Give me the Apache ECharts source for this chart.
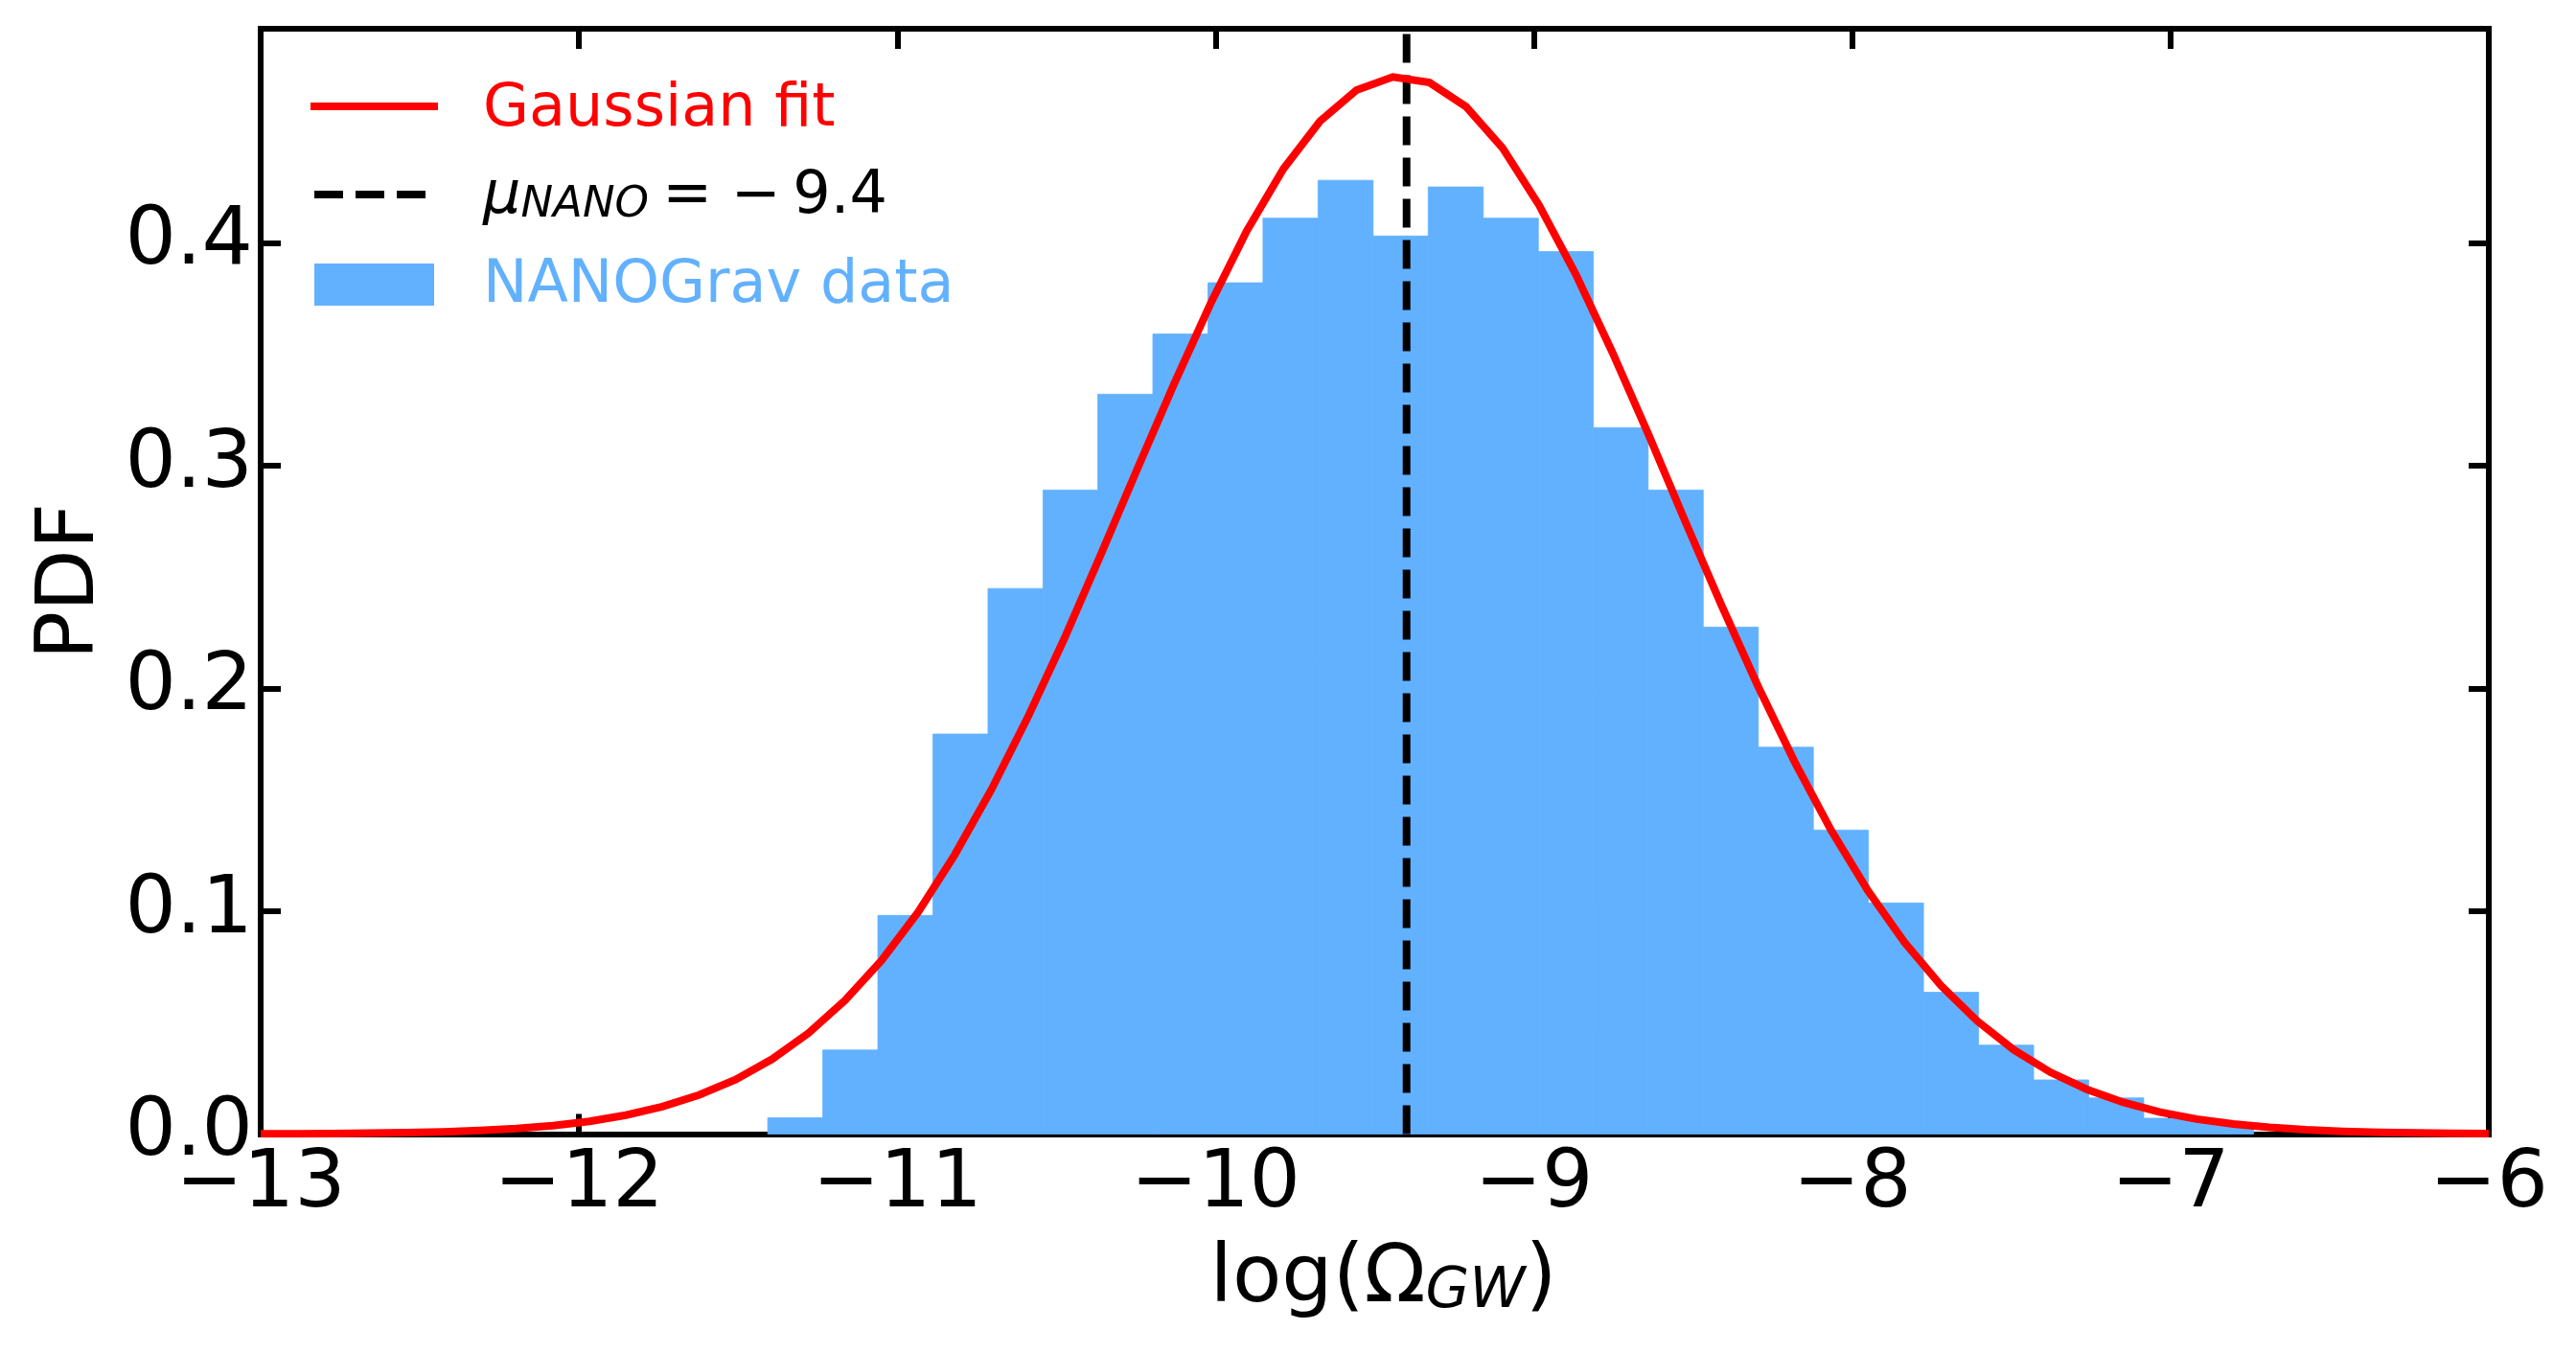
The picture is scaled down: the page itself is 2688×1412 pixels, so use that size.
<!DOCTYPE html>
<html>
<head>
<meta charset="utf-8">
<script src="https://cdn.jsdelivr.net/npm/echarts@6/dist/echarts.min.js"></script>
<style>
html, body { margin: 0; padding: 0; background: #ffffff; }
#chart { width: 2688px; height: 1412px; }
</style>
</head>
<body>
<div id="chart"></div>
<script>
// ---------- data ----------
// histogram bin edges (log Omega_GW)
const binEdges = [
  -11.407, -11.234, -11.061, -10.888, -10.715, -10.542, -10.370, -10.197,
  -10.024, -9.851, -9.678, -9.505, -9.332, -9.159, -8.986, -8.813,
  -8.641, -8.468, -8.295, -8.122, -7.949, -7.776, -7.603, -7.430,
  -7.257, -7.084, -6.911, -6.739
];
// histogram density per bin
const binDensity = [
  0.0073, 0.0377, 0.0981, 0.1795, 0.2448, 0.2890, 0.3320, 0.3590,
  0.3820, 0.4110, 0.4280, 0.4030, 0.4250, 0.4110, 0.3960, 0.3170,
  0.2890, 0.2275, 0.1736, 0.1364, 0.1037, 0.0636, 0.0399, 0.0243,
  0.0162, 0.0071, 0.0050
];
// Gaussian fit curve samples
const fitX = [
  -13.000, -12.885, -12.770, -12.656, -12.541, -12.426, -12.311, -12.197,
  -12.082, -11.967, -11.852, -11.738, -11.623, -11.508, -11.393, -11.279,
  -11.164, -11.049, -10.934, -10.820, -10.705, -10.590, -10.475, -10.361,
  -10.246, -10.131, -10.016, -9.902, -9.787, -9.672, -9.557, -9.443,
  -9.328, -9.213, -9.098, -8.984, -8.869, -8.754, -8.639, -8.525,
  -8.410, -8.295, -8.180, -8.066, -7.951, -7.836, -7.721, -7.607,
  -7.492, -7.377, -7.262, -7.148, -7.033, -6.918, -6.803, -6.689,
  -6.574, -6.459, -6.344, -6.230, -6.115, -6.000
];
const fitPDF = [
  0.0001, 0.0001, 0.0002, 0.0004, 0.0006, 0.0010, 0.0016, 0.0025,
  0.0038, 0.0057, 0.0085, 0.0123, 0.0175, 0.0244, 0.0336, 0.0453,
  0.0600, 0.0780, 0.0997, 0.1252, 0.1544, 0.1870, 0.2224, 0.2599,
  0.2984, 0.3364, 0.3726, 0.4053, 0.4331, 0.4545, 0.4685, 0.4744,
  0.4719, 0.4610, 0.4424, 0.4169, 0.3860, 0.3510, 0.3136, 0.2751,
  0.2371, 0.2007, 0.1668, 0.1363, 0.1093, 0.0861, 0.0666, 0.0507,
  0.0378, 0.0277, 0.0200, 0.0142, 0.0098, 0.0067, 0.0045, 0.0030,
  0.0019, 0.0012, 0.0008, 0.0005, 0.0003, 0.0002
];
const muNano = -9.4;
const xRange = [-13, -6];
const yRange = [0, 0.496];
const xTicks = [-13, -12, -11, -10, -9, -8, -7, -6];
const yTicks = [0, 0.1, 0.2, 0.3, 0.4];
const legendNames = ['Gaussian fit', 'mu', 'NANOGrav data'];

// ---------- styling ----------
const FONT = 'DejaVu Sans';
const BAR = '#62B1FF';
const RED = '#ff0000';

const histData = binDensity.map((h, i) => [binEdges[i], binEdges[i + 1], h]);
const fitData = fitX.map((x, i) => [x, fitPDF[i]]);
const muData = [[muNano, yRange[0]], [muNano, yRange[1]]];

const fmtX = v => (v < 0 ? '\u2212' : '') + Math.abs(v);

function frameAxis(extra) {
  return Object.assign({
    type: 'value',
    axisLine: { show: true, onZero: false, lineStyle: { color: '#000', width: 6, cap: 'square' } },
    axisTick: { show: true, inside: true, length: 21, lineStyle: { color: '#000', width: 6 } },
    splitLine: { show: false },
    axisLabel: { show: false }
  }, extra);
}

const chart = echarts.init(document.getElementById('chart'), null, { renderer: 'canvas' });

const option = {
  backgroundColor: '#ffffff',
  animation: false,
  grid: { left: 272, right: 91, top: 30, bottom: 228.5, containLabel: false },
  xAxis: [
    frameAxis({
      position: 'bottom', min: xRange[0], max: xRange[1], interval: 1,
      axisLabel: {
        show: true, color: '#000', fontFamily: FONT, fontSize: 84, lineHeight: 84,
        margin: 12, formatter: fmtX
      },
      name: '{n|log(\u03A9}{s|GW}{n|)}',
      nameLocation: 'middle', nameGap: 111,
      nameTextStyle: {
        padding: [0, 0, 0, 18],
        rich: {
          n: { fontFamily: FONT, fontSize: 84, lineHeight: 84, color: '#000' },
          s: { fontFamily: FONT, fontSize: 59, lineHeight: 42, fontStyle: 'italic', color: '#000', verticalAlign: 'bottom' }
        }
      }
    }),
    frameAxis({ position: 'top', min: xRange[0], max: xRange[1], interval: 1 })
  ],
  yAxis: [
    frameAxis({
      position: 'left', min: yRange[0], max: yRange[1],
      axisTick: { show: true, inside: true, length: 21, customValues: yTicks, lineStyle: { color: '#000', width: 6 } },
      axisLabel: {
        show: true, customValues: yTicks, color: '#000', fontFamily: FONT, fontSize: 84, lineHeight: 84,
        margin: 8, formatter: v => v.toFixed(1)
      },
      name: 'PDF', nameLocation: 'middle', nameGap: 155,
      nameTextStyle: { fontFamily: FONT, fontSize: 84, lineHeight: 84, color: '#000' }
    }),
    frameAxis({
      position: 'right', min: yRange[0], max: yRange[1],
      axisTick: { show: true, inside: true, length: 21, customValues: yTicks, lineStyle: { color: '#000', width: 6 } }
    })
  ],
  series: [
    {
      name: legendNames[2],
      type: 'custom',
      xAxisIndex: 0, yAxisIndex: 0,
      z: 1,
      encode: { x: [0, 1], y: 2 },
      data: histData,
      renderItem: function (params, api) {
        const p0 = api.coord([api.value(0), api.value(2)]);
        const p1 = api.coord([api.value(1), 0]);
        return {
          type: 'rect',
          shape: { x: p0[0], y: p0[1], width: p1[0] - p0[0], height: p1[1] - p0[1] },
          style: { fill: BAR, stroke: BAR, lineWidth: 0.8 }
        };
      }
    },
    {
      name: legendNames[1],
      type: 'line',
      z: 2,
      data: muData,
      symbol: 'none',
      lineStyle: { color: '#000', width: 8, type: [30, 13], cap: 'butt' }
    },
    {
      name: legendNames[0],
      type: 'line',
      z: 3,
      data: fitData,
      symbol: 'none',
      smooth: false,
      lineStyle: { color: RED, width: 8, join: 'miter' }
    }
  ],
  graphic: [
    { type: 'line', z: 10, shape: { x1: 328, y1: 111, x2: 453, y2: 111 },
      style: { stroke: RED, lineWidth: 8, lineCap: 'square' } },
    { type: 'text', z: 10, x: 504, y: 115,
      style: { text: 'Gaussian fit', fontFamily: FONT, fontSize: 62, fill: RED, verticalAlign: 'middle', align: 'left' } },
    { type: 'line', z: 10, shape: { x1: 328, y1: 203, x2: 453, y2: 203 },
      style: { stroke: '#000', lineWidth: 8, lineDash: [30, 13], lineCap: 'butt' } },
    { type: 'text', z: 10, x: 504, y: 206,
      style: {
        text: '{mu|\u03BC}{sub|NANO }{n|= \u2212\u20099.4}',
        verticalAlign: 'middle', align: 'left',
        rich: {
          mu: { fontFamily: FONT, fontSize: 62, lineHeight: 62, fontStyle: 'italic', fill: '#000' },
          sub: { fontFamily: FONT, fontSize: 45, lineHeight: 30, fontStyle: 'italic', fill: '#000', verticalAlign: 'bottom' },
          n: { fontFamily: FONT, fontSize: 62, lineHeight: 62, fill: '#000' }
        }
      } },
    { type: 'rect', z: 10, shape: { x: 328, y: 275, width: 125, height: 44 },
      style: { fill: BAR } },
    { type: 'text', z: 10, x: 504, y: 299,
      style: { text: 'NANOGrav data', fontFamily: FONT, fontSize: 62, fill: BAR, verticalAlign: 'middle', align: 'left' } }
  ]
};

chart.setOption(option);
</script>
</body>
</html>
